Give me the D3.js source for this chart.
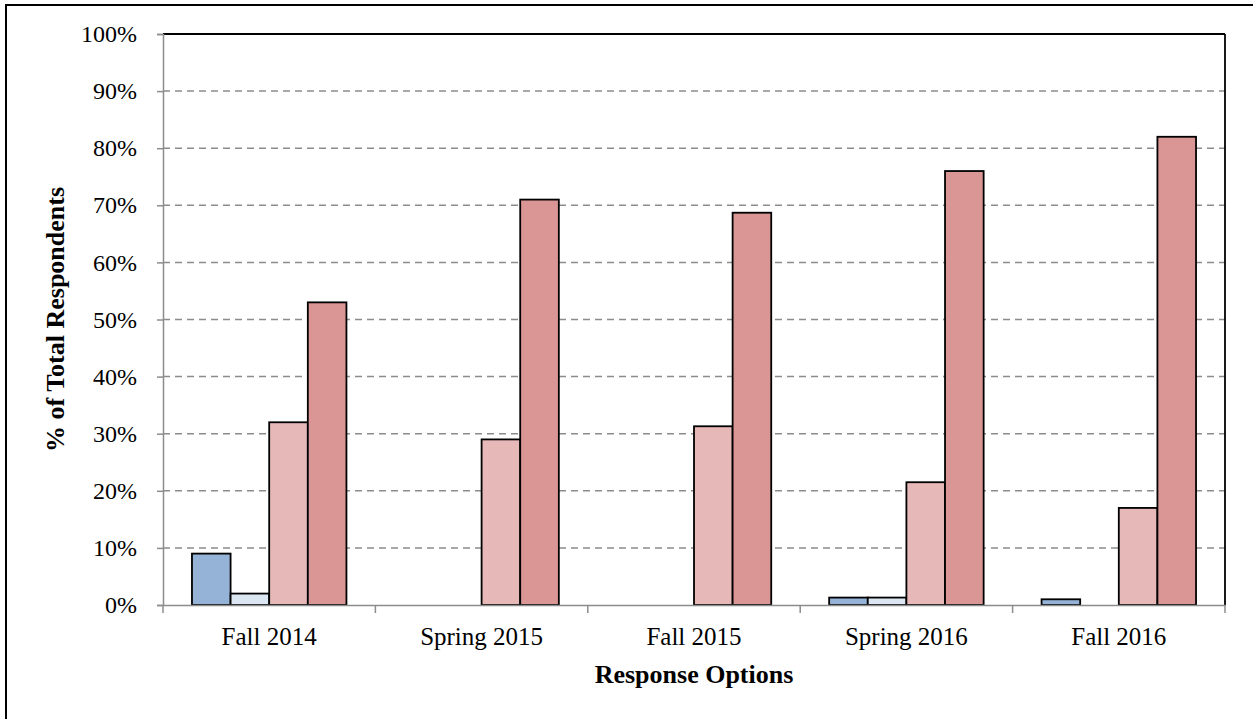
<!DOCTYPE html>
<html>
<head>
<meta charset="utf-8">
<script src="https://cdn.jsdelivr.net/npm/d3@7"></script>
<style>
  html, body { margin: 0; padding: 0; background: #fff; }
  svg { display: block; }
  text { font-family: "Liberation Serif", "Times New Roman", serif; fill: #000; }
</style>
</head>
<body>
<svg id="chart" width="1253" height="719"></svg>
<script>
// ---- data ----
const categories = ["Fall 2014", "Spring 2015", "Fall 2015", "Spring 2016", "Fall 2016"];
const seriesNames = ["Strongly Disagree", "Disagree", "Agree", "Strongly Agree"];
const seriesColors = ["#95B3D7", "#DCE6F2", "#E6B9B8", "#D99694"];
const stronglyDisagree = [9, 0, 0, 1.3, 1.0];
const disagree = [2, 0, 0, 1.3, 0];
const agree = [32, 29, 31.3, 21.5, 17];
const stronglyAgree = [53, 71, 68.7, 76, 82];
const seriesValues = [stronglyDisagree, disagree, agree, stronglyAgree];
const yTicks = [0, 10, 20, 30, 40, 50, 60, 70, 80, 90, 100];
const yTitle = "% of Total Respondents";
const xTitle = "Response Options";

// ---- layout ----
const svg = d3.select("#chart");
const mLeft = 163, mRight = 1225, mTop = 34, mBottom = 605;

// outer frame
svg.append("rect").attr("x", 6).attr("y", 5).attr("width", 1270).attr("height", 740)
  .attr("fill", "none").attr("stroke", "#000").attr("stroke-width", 2);

const x0 = d3.scaleBand().domain(categories).range([mLeft, mRight]).padding(0);
const bw = x0.bandwidth();
const gap = bw * 0.75 / 5.5;
const x1 = d3.scaleBand().domain(seriesNames).range([gap, bw - gap]).padding(0);
const y = d3.scaleLinear().domain([0, 100]).range([mBottom, mTop]);

// gridlines
svg.append("g").selectAll("line").data(yTicks.filter(t => t > 0 && t < 100)).join("line")
  .attr("x1", mLeft).attr("x2", mRight)
  .attr("y1", d => y(d)).attr("y2", d => y(d))
  .attr("stroke", "#8c8c8c").attr("stroke-width", 1.5).attr("stroke-dasharray", "7,5");

// plot border top & right
svg.append("line").attr("x1", mLeft).attr("x2", mRight).attr("y1", mTop).attr("y2", mTop)
  .attr("stroke", "#000").attr("stroke-width", 1.8);
svg.append("line").attr("x1", mRight).attr("x2", mRight).attr("y1", mTop).attr("y2", mBottom)
  .attr("stroke", "#000").attr("stroke-width", 1.8);

// bars
const barData = [];
categories.forEach((c, i) => {
  seriesNames.forEach((s, j) => {
    barData.push({ cat: c, series: s, value: seriesValues[j][i], color: seriesColors[j] });
  });
});
svg.append("g").selectAll("rect").data(barData.filter(d => d.value > 0)).join("rect")
  .attr("x", d => x0(d.cat) + x1(d.series))
  .attr("y", d => y(d.value))
  .attr("width", x1.bandwidth())
  .attr("height", d => y(0) - y(d.value))
  .attr("fill", d => d.color)
  .attr("stroke", "#000").attr("stroke-width", 1.8);

// y axis
const yAxis = d3.axisLeft(y).tickValues(yTicks).tickFormat(d => d + "%").tickSize(6).tickPadding(20);
const gy = svg.append("g").attr("transform", `translate(${mLeft},0)`).call(yAxis);
gy.select(".domain").attr("stroke", "#8c8c8c").attr("stroke-width", 1.5);
gy.selectAll(".tick line").attr("stroke", "#8c8c8c").attr("stroke-width", 1.5);
gy.selectAll(".tick text").attr("font-size", 24).attr("font-family", "Liberation Serif, Times New Roman, serif").attr("fill", "#000");

// x axis
const xAxis = d3.axisBottom(x0).tickSize(0).tickPadding(0);
const gx = svg.append("g").attr("transform", `translate(0,${mBottom})`).call(xAxis);
gx.select(".domain").attr("stroke", "#8c8c8c").attr("stroke-width", 1.5);
gx.selectAll(".tick text").attr("font-size", 25).attr("dy", null).attr("y", 40)
  .attr("font-family", "Liberation Serif, Times New Roman, serif").attr("fill", "#000");
// boundary ticks
const bounds = categories.map(c => x0(c)).concat([mRight]);
svg.append("g").selectAll("line").data(bounds).join("line")
  .attr("x1", d => d).attr("x2", d => d).attr("y1", mBottom).attr("y2", mBottom + 8)
  .attr("stroke", "#8c8c8c").attr("stroke-width", 1.5);

// titles
svg.append("text").attr("x", (mLeft + mRight) / 2).attr("y", 683)
  .attr("text-anchor", "middle").attr("font-size", 26).attr("font-weight", "bold").text(xTitle);
svg.append("text").attr("transform", `translate(64,${(mTop + mBottom) / 2}) rotate(-90)`)
  .attr("text-anchor", "middle").attr("font-size", 26).attr("font-weight", "bold").text(yTitle);
</script>
</body>
</html>
